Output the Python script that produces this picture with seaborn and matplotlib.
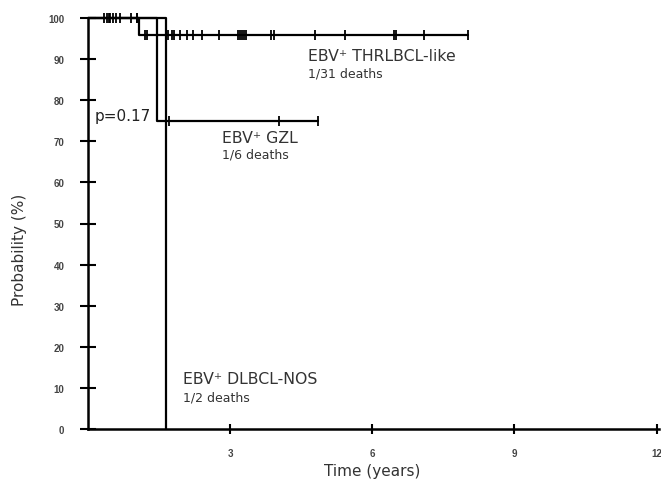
import numpy as np
import pandas as pd
import matplotlib
matplotlib.use("Agg")
import matplotlib.pyplot as plt
import seaborn as sns

# Follow-up (years) and status (1 = death, 0 = censored) for each group
thrl_times = [0.34, 0.40, 0.46, 0.52, 0.60, 0.68, 1.04, 1.08,
              1.21, 1.25, 1.69, 1.78, 1.82, 1.94, 2.09, 2.22, 2.41, 2.77,
              3.17, 3.21, 3.26, 3.30, 3.34, 3.87, 3.93, 4.78, 5.43,
              6.45, 6.49, 7.10, 8.01]
thrl_events = [0, 0, 0, 0, 0, 0, 0, 1,
               0, 0, 0, 0, 0, 0, 0, 0, 0, 0,
               0, 0, 0, 0, 0, 0, 0, 0, 0,
               0, 0, 0, 0]

gzl_times = [0.45, 0.90, 1.46, 1.70, 4.04, 4.86]
gzl_events = [0, 0, 1, 0, 0, 0]

dlbcl_times = [1.04, 1.65]
dlbcl_events = [0, 1]

group_names = ["EBV⁺ THRLBCL-like", "EBV⁺ GZL", "EBV⁺ DLBCL-NOS"]
group_notes = ["1/31 deaths", "1/6 deaths", "1/2 deaths"]
p_value_text = "p=0.17"

y_ticks = [0, 10, 20, 30, 40, 50, 60, 70, 80, 90, 100]
x_ticks = [3, 6, 9, 12]


def kaplan_meier(times, events):
    """Return step coordinates of the survival curve and censor points (in %)."""
    df = pd.DataFrame({"t": times, "e": events}).sort_values("t")
    n_at_risk = len(df)
    surv = 1.0
    xs, ys = [0.0], [100.0]
    cx, cy = [], []
    for t, grp in df.groupby("t", sort=True):
        d = grp["e"].sum()
        c = len(grp) - d
        if d > 0:
            surv *= (1 - d / n_at_risk)
            xs.append(t)
            ys.append(surv * 100)
        if c > 0:
            cx.extend([t] * c)
            cy.extend([surv * 100] * c)
        n_at_risk -= len(grp)
    xs.append(df["t"].max())
    ys.append(surv * 100)
    return xs, ys, cx, cy


sns.set_style("white")
plt.rcParams["font.family"] = ["DejaVu Sans"]

fig = plt.figure(figsize=(6.61, 4.89), dpi=100)
ax = fig.add_axes([88 / 661, 1 - 430 / 489, (659 - 88) / 661, (430 - 19) / 489])

groups = [(thrl_times, thrl_events), (gzl_times, gzl_events), (dlbcl_times, dlbcl_events)]
for times, events in groups:
    xs, ys, cx, cy = kaplan_meier(times, events)
    sns.lineplot(x=xs, y=ys, ax=ax, drawstyle="steps-post", estimator=None,
                 sort=False, color="black", linewidth=1.6, clip_on=False)
    if cx:
        sns.scatterplot(x=cx, y=cy, ax=ax, marker="|", s=55, color="black",
                        linewidth=1.3, clip_on=False, zorder=3)

ax.set_xlim(0, 12.05)
ax.set_ylim(0, 100)

for side in ["top", "right"]:
    ax.spines[side].set_visible(False)
for side in ["left", "bottom"]:
    ax.spines[side].set_color("black")
    ax.spines[side].set_linewidth(1.8)

ax.set_yticks(y_ticks)
ax.set_yticklabels([str(v) for v in y_ticks])
ax.set_xticks(x_ticks)
ax.set_xticklabels([str(v) for v in x_ticks])
ax.tick_params(axis="y", left=True, direction="inout", length=12, width=1.5,
               color="black", pad=11, labelsize=7, labelcolor="#444444")
ax.tick_params(axis="x", bottom=True, direction="inout", length=7, width=1.5,
               color="black", pad=10, labelsize=7, labelcolor="#444444")
for lab in ax.get_xticklabels() + ax.get_yticklabels():
    lab.set_fontfamily("Liberation Sans")
    lab.set_fontweight("bold")

ax.set_xlabel("Time (years)", fontsize=11, color="#333333")
ax.xaxis.set_label_coords((372 - 88) / 571, -(472 - 430) / 411)
ax.set_ylabel("Probability (%)", fontsize=11, color="#333333")
ax.yaxis.set_label_coords((20 - 88) / 571, (430 - 250) / 411)
ax.xaxis.label.set_va("center")
ax.yaxis.label.set_va("center")

label_pos = [(4.65, 90.8, 86.6), (2.83, 71.0, 66.8), (2.01, 12.2, 7.9)]
for (x, y1, y2), name, note in zip(label_pos, group_names, group_notes):
    ax.text(x, y1, name, fontsize=11.3, color="#333333", va="center", ha="left")
    ax.text(x, y2, note, fontsize=9, color="#333333", va="center", ha="left")

ax.text(0.14, 76.3, p_value_text, fontsize=11, color="#222222", va="center", ha="left")

fig.savefig("out.png", dpi=100, facecolor="white")
